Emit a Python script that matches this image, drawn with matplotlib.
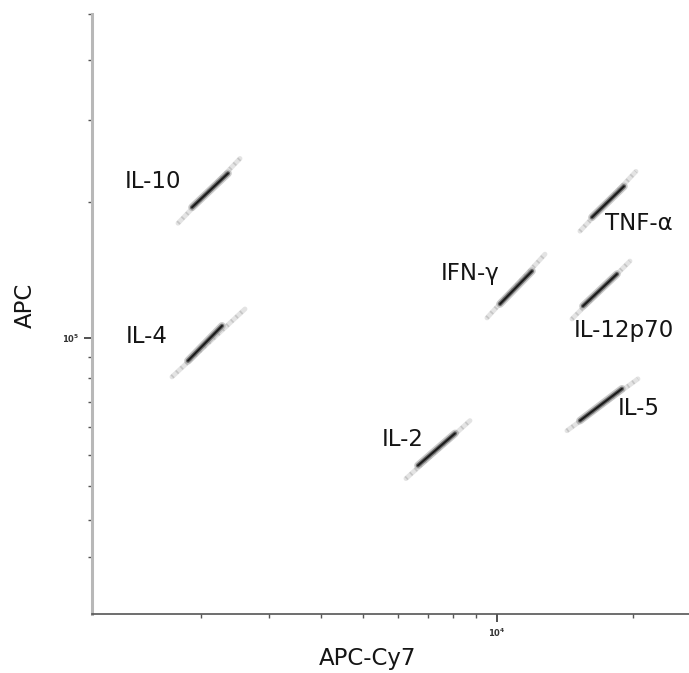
import matplotlib.pyplot as plt

plt.rcParams['font.family'] = ['DejaVu Sans']

# bead populations, APC-Cy7 (x) vs APC (y)
cytokines = ['IL-10', 'IL-4', 'IFN-γ', 'IL-2', 'TNF-α', 'IL-12p70', 'IL-5']

# whole cloud: low end and high end of each population
x_low = [1722, 1653, 9500, 6256, 15264, 14657, 14289]
y_low = [180200, 80700, 111200, 42300, 173200, 110600, 58600]
x_high = [2535, 2610, 12774, 8707, 20281, 19673, 20488]
y_high = [248000, 116500, 154300, 62400, 232800, 149000, 79800]

# dense core of each population
core_x_low = [1888, 1839, 10154, 6658, 16223, 15498, 15264]
core_y_low = [195000, 88300, 119600, 46500, 185600, 118300, 62400]
core_x_high = [2361, 2277, 11955, 8062, 19083, 18418, 18891]
core_y_high = [230600, 106600, 141600, 57600, 216300, 139500, 75400]

# where the names sit (axes fraction)
label_pos = [(0.102, 0.720), (0.092, 0.462), (0.633, 0.568), (0.521, 0.290),
             (0.916, 0.650), (0.891, 0.473), (0.915, 0.342)]

fig = plt.figure(figsize=(6.89, 6.73), dpi=100)
ax = fig.add_axes([0.1335, 0.0877, 0.8665, 0.8915])

ax.set_xscale('asinh', linear_width=1500)
ax.set_yscale('asinh', linear_width=50000)

for i in range(len(cytokines)):
    cx = [core_x_low[i], core_x_high[i]]
    cy = [core_y_low[i], core_y_high[i]]
    # sparse tails
    ax.plot([x_low[i], x_high[i]], [y_low[i], y_high[i]], color='#9a9a9a',
            lw=3.0, alpha=0.6, linestyle=(0, (0.4, 1.1)))
    ax.plot([x_low[i], x_high[i]], [y_low[i], y_high[i]], color='#c8c8c8',
            lw=3.5, alpha=0.5, solid_capstyle='round')
    # fuzzy body
    ax.plot(cx, cy, color='#a8a8a8', lw=5.5, alpha=0.6, solid_capstyle='round')
    ax.plot(cx, cy, color='#555555', lw=3.2, alpha=0.8, solid_capstyle='round')
    ax.plot(cx, cy, color='#111111', lw=1.4, alpha=0.9, solid_capstyle='round')
    ax.text(label_pos[i][0], label_pos[i][1], cytokines[i], transform=ax.transAxes,
            ha='center', va='center', fontsize=16.5, color='#151515')

ax.set_xlim(862, 26540)
ax.set_ylim(5925, 495500)

ax.set_xticks([10000])
ax.set_xticklabels(['$\\mathbf{10^4}$'])
ax.set_xticks([2000, 3000, 4000, 5000, 6000, 7000, 8000, 9000, 20000], minor=True)
ax.set_yticks([100000])
ax.set_yticklabels(['$\\mathbf{10^5}$'])
ax.set_yticks([20000, 30000, 40000, 50000, 60000, 70000, 80000, 90000,
               200000, 300000, 400000, 500000], minor=True)
ax.xaxis.set_minor_formatter(plt.NullFormatter())
ax.yaxis.set_minor_formatter(plt.NullFormatter())

ax.tick_params(which='major', length=6, width=1.2, color='#333333',
               labelsize=6, labelcolor='#333333', pad=3)
ax.tick_params(which='minor', length=3, width=1.0, color='#555555')

for s in ['top', 'right']:
    ax.spines[s].set_visible(False)
ax.spines['left'].set_color('#b8b8b8')
ax.spines['left'].set_linewidth(2.2)
ax.spines['bottom'].set_color('#555555')
ax.spines['bottom'].set_linewidth(1.2)

ax.set_xlabel('APC-Cy7', fontsize=16.5, color='#151515')
ax.set_ylabel('APC', fontsize=16.5, color='#151515')
ax.xaxis.set_label_coords(0.461, -0.055)
ax.yaxis.set_label_coords(-0.092, 0.515)

fig.savefig('out.png', dpi=100)
